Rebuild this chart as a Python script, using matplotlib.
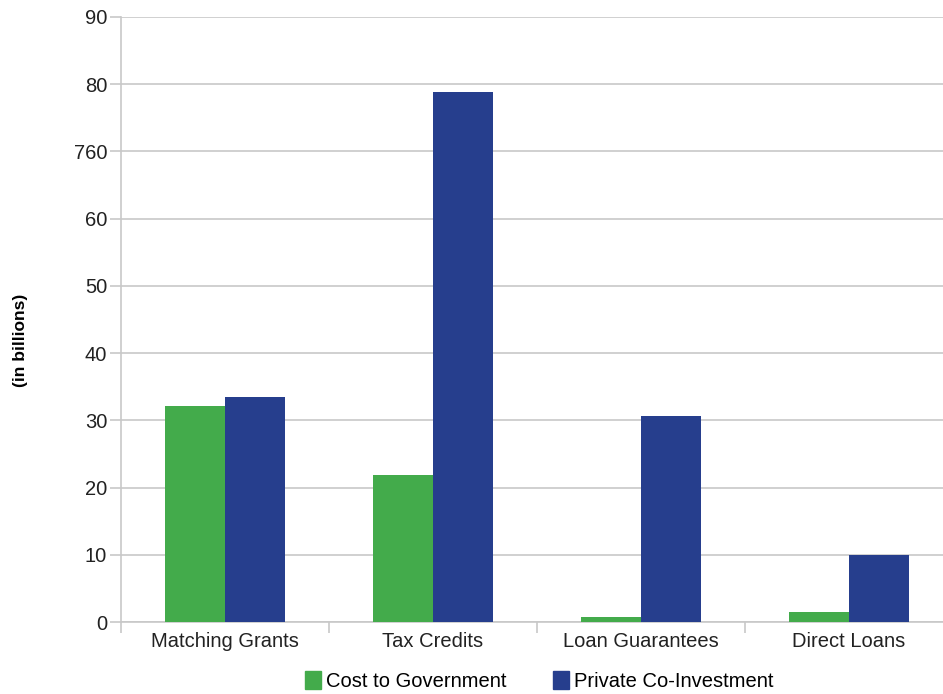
import numpy as np
import matplotlib.pyplot as plt
from matplotlib.patches import Patch

# data
categories = ["Matching Grants", "Tax Credits", "Loan Guarantees", "Direct Loans"]
cost_gov = [32.1, 21.9, 0.7, 1.5]
private_co = [33.4, 78.9, 30.7, 10.0]
ytick_vals = [0, 10, 20, 30, 40, 50, 60, 70, 80, 90]
ytick_labels = ["0", "10", "20", "30", "40", "50", "60", "760", "80", "90"]

green = "#43ab4b"
blue = "#263e8d"
grid_c = "#c8c8c8"

plt.rcParams['font.family'] = ['Liberation Sans', 'DejaVu Sans']

fig = plt.figure(figsize=(9.43, 6.94), dpi=100)
# axes runs a bit past the right edge, like the original
ax = fig.add_axes([121 / 943, 1 - 622 / 694, 832 / 943, 605 / 694])

x = np.arange(len(categories))
w = 0.288
ax.bar(x - w / 2, cost_gov, w, color=green, zorder=3)
ax.bar(x + w / 2, private_co, w, color=blue, zorder=3)

ax.set_xlim(-0.5, len(categories) - 0.5)
ax.set_ylim(0, 90)
ax.set_yticks(ytick_vals)
ax.set_yticklabels(ytick_labels, fontsize=14.5, color="#222222")
ax.yaxis.grid(True, color=grid_c, linewidth=1.2, zorder=0)
ax.tick_params(axis='y', length=8, color=grid_c, width=1.2, pad=2)

ax.set_xticks(x)
ax.set_xticklabels(categories, fontsize=14.5, color="#222222")
ax.set_xticks(np.arange(-0.5, len(categories), 1), minor=True)
ax.tick_params(axis='x', which='major', length=0, pad=7)
ax.tick_params(axis='x', which='minor', length=8, color=grid_c, width=1.2)

for s in ['top', 'right']:
    ax.spines[s].set_visible(False)
for s in ['left', 'bottom']:
    ax.spines[s].set_color(grid_c)
    ax.spines[s].set_linewidth(1.2)

fig.text(21 / 943, 1 - 340 / 694, "(in billions)", rotation=90, fontsize=12.5,
         fontweight='bold', ha='center', va='center')

handles = [Patch(color=green, label="Cost to Government"),
           Patch(color=blue, label="Private Co-Investment")]
fig.legend(handles=handles, loc='center', bbox_to_anchor=(539 / 943, 1 - 681 / 694),
           ncol=2, frameon=False, fontsize=14.5, handlelength=0.8, handleheight=1.0,
           handletextpad=0.25, columnspacing=2.3)

fig.savefig("out.png", dpi=100)
